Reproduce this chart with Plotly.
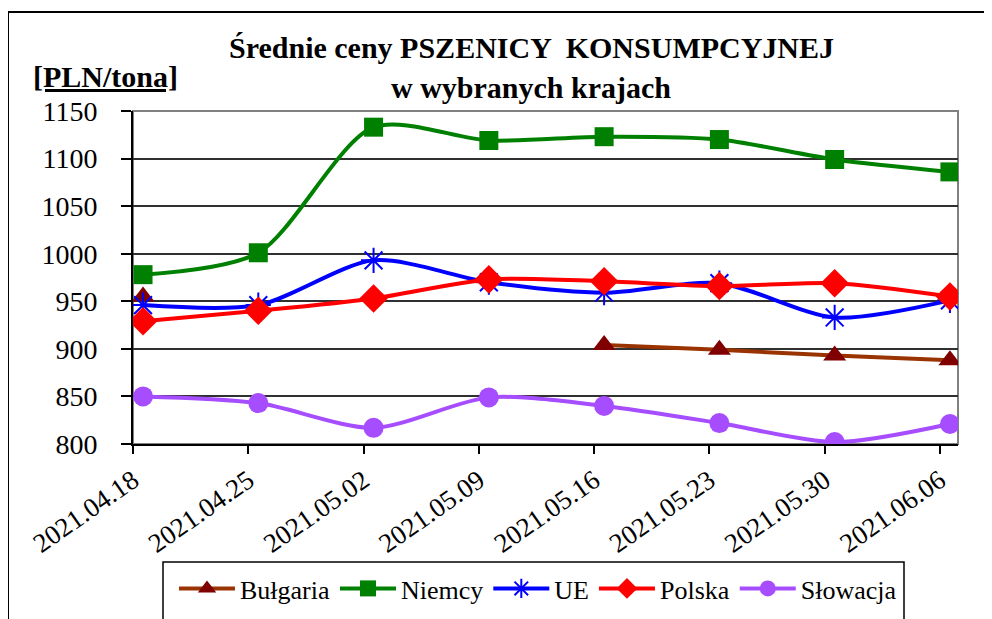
import plotly.graph_objects as go

dates = ["2021.04.18", "2021.04.25", "2021.05.02", "2021.05.09",
         "2021.05.16", "2021.05.23", "2021.05.30", "2021.06.06"]
bulgaria = [955, None, None, None, 904, 899, 893, 888]
niemcy = [978, 1001, 1133, 1119, 1123, 1120, 1099, 1086]
ue = [946, 946, 993, 970, 959, 969, 933, 951]
polska = [929, 940, 953, 973, 971, 966, 969, 955]
slowacja = [850, 843, 817, 849, 840, 822, 802, 821]
y_ticks = [800, 850, 900, 950, 1000, 1050, 1100, 1150]

FONT = "Liberation Serif"
idx = list(range(len(dates)))
tick_offset = 0.087

fig = go.Figure()

series = [
    ("Bułgaria", bulgaria, "#993300", dict(symbol="triangle-up", size=20, color="#800000")),
    ("Niemcy", niemcy, "#008000", dict(symbol="square", size=19, color="#008000")),
    ("UE", ue, "#0000FF", dict(symbol="asterisk-open", size=21, color="#0000FF",
                               line=dict(color="#0000FF", width=2))),
    ("Polska", polska, "#FF0000", dict(symbol="diamond", size=22, color="#FF0000")),
    ("Słowacja", slowacja, "#A64DFF", dict(symbol="circle", size=20, color="#A64DFF")),
]
for name, vals, lc, mk in series:
    fig.add_trace(go.Scatter(
        x=idx, y=vals, name=name, mode="lines+markers",
        line=dict(color=lc, width=4, shape="spline", smoothing=0.8),
        marker=mk, connectgaps=False,
    ))

# page offset (body margin of 8px) compensation: reference px -> figure px
OFF = 8
W, H = 992 - OFF, 619 - OFF
L, R, T, B = 133 - OFF, 958 - OFF, 111 - OFF, 444 - OFF
pw, ph = R - L, B - T
def px(x):
    return (x - OFF - L) / pw
def py(y):
    return (B - (y - OFF)) / ph

shapes = [
    dict(type="rect", xref="paper", yref="paper", x0=px(8), x1=px(1010), y0=py(650), y1=py(12),
         line=dict(color="black", width=2), layer="below"),
    dict(type="rect", xref="paper", yref="paper", x0=0, x1=1, y0=0, y1=1,
         line=dict(color="#808080", width=2), layer="below"),
    dict(type="rect", xref="paper", yref="paper", x0=px(163), x1=px(904), y0=py(650), y1=py(562),
         line=dict(color="black", width=1.5), fillcolor="white", layer="below"),
]

annotations = [
    dict(text="<b>Średnie ceny PSZENICY  KONSUMPCYJNEJ</b>", xref="paper", yref="paper",
         x=px(531), y=py(48), showarrow=False, font=dict(family=FONT, size=30, color="black"),
         xanchor="center", yanchor="middle"),
    dict(text="<b>w wybranych krajach</b>", xref="paper", yref="paper",
         x=px(531), y=py(88), showarrow=False, font=dict(family=FONT, size=30, color="black"),
         xanchor="center", yanchor="middle"),
    dict(text="<b><u>[PLN/tona]</u></b>", xref="paper", yref="paper",
         x=px(105), y=py(76), showarrow=False, font=dict(family=FONT, size=30, color="black"),
         xanchor="center", yanchor="middle"),
]

fig.update_layout(
    width=W, height=H,
    margin=dict(l=L, r=W - R, t=T, b=H - B, autoexpand=False),
    paper_bgcolor="white", plot_bgcolor="white",
    showlegend=True,
    legend=dict(orientation="h", xref="container", yref="container",
                x=(174 - OFF) / W, y=1 - (565 - OFF) / H, xanchor="left", yanchor="top",
                font=dict(family=FONT, size=26, color="black"),
                bgcolor="rgba(0,0,0,0)", borderwidth=0, itemwidth=56,
                tracegroupgap=0, traceorder="normal"),
    shapes=shapes,
    annotations=annotations,
    xaxis=dict(
        range=[-tick_offset, 7.07], automargin=False,
        tickmode="array", tickvals=[i - tick_offset for i in idx], ticktext=dates,
        tickangle=-35, tickfont=dict(family=FONT, size=27, color="black"),
        ticks="outside", ticklen=8, tickwidth=2, tickcolor="black",
        showline=True, linecolor="black", linewidth=2,
        showgrid=False, zeroline=False,
    ),
    yaxis=dict(
        range=[800, 1150], automargin=False,
        tickmode="array", tickvals=y_ticks,
        tickfont=dict(family=FONT, size=28, color="black"),
        ticks="outside", ticklen=10, tickwidth=2, tickcolor="black",
        ticklabelstandoff=18,
        showline=True, linecolor="black", linewidth=2,
        showgrid=True, gridcolor="#303030", gridwidth=1.5,
        zeroline=False,
    ),
)

fig.write_html("out.html")
